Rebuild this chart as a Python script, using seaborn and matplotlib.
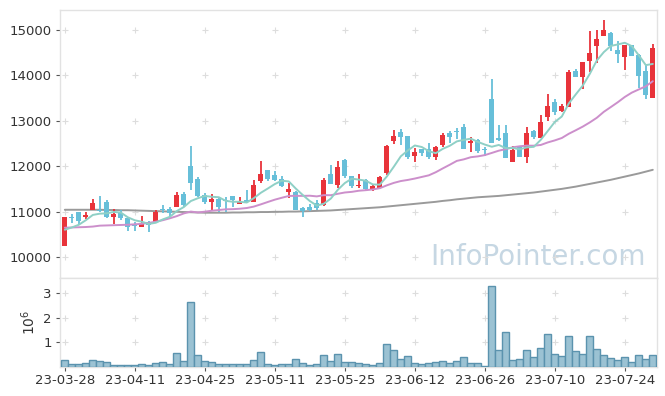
import matplotlib
matplotlib.use("Agg")
import matplotlib.pyplot as plt
import numpy as np
import pandas as pd
import seaborn as sns

# ---------------- data ----------------
tick_labels = ["23-03-28", "23-04-11", "23-04-25", "23-05-11", "23-05-25",
               "23-06-12", "23-06-26", "23-07-10", "23-07-24"]

opens = [10250, 10880, 10990, 10890, 11030, 11030, 11210, 10870, 10970, 10850,
         10700, 10670, 10760, 10770, 11060, 11060, 11090, 11380, 12010, 11720,
         11370, 11220, 11280, 11260, 11340, 11170, 11250, 11220, 11670, 11920,
         11810, 11720, 11430, 11440, 11070, 11110, 11180, 11150, 11830, 11590,
         12140, 11780, 11570, 11700, 11490, 11530, 11840, 12560, 12750, 12670,
         12220, 12380, 12380, 12210, 12470, 12740, 12780, 12860, 12500, 12580,
         12360, 13470, 12620, 12730, 12100, 12420, 12210, 12780, 12630, 13090,
         13410, 13220, 13310, 14100, 13970, 14320, 14650, 14870, 14930, 14560,
         14410, 14670, 14450, 14100, 13510]
closes = [10870, 10850, 10800, 10920, 11190, 11010, 10890, 10950, 10850, 10670,
          10680, 10730, 10710, 10980, 11040, 10960, 11370, 11150, 11640, 11350,
          11210, 11280, 11100, 11240, 11250, 11210, 11200, 11580, 11830, 11720,
          11700, 11570, 11500, 11040, 11010, 11040, 11070, 11700, 11610, 11980,
          11780, 11560, 11590, 11490, 11570, 11760, 12450, 12670, 12640, 12210,
          12310, 12280, 12210, 12420, 12690, 12650, 12760, 12380, 12550, 12340,
          12350, 12520, 12580, 12190, 12360, 12210, 12730, 12640, 12970, 13330,
          13200, 13330, 14080, 13970, 14300, 14490, 14800, 15000, 14650, 14470,
          14670, 14430, 13990, 13570, 14600]
highs = [10870, 10950, 11000, 10990, 11280, 11350, 11260, 11050, 11040, 10870,
         10760, 10900, 10800, 11030, 11140, 11100, 11440, 11440, 12440, 11760,
         11400, 11380, 11290, 11330, 11350, 11320, 11470, 11700, 12110, 11920,
         11890, 11790, 11620, 11450, 11110, 11170, 11250, 11750, 12030, 12110,
         12150, 11790, 11830, 11720, 11580, 11780, 12460, 12800, 12820, 12670,
         12400, 12380, 12500, 12440, 12720, 12770, 12850, 12920, 12640, 12590,
         12420, 13910, 12900, 12900, 12440, 12420, 12870, 12790, 13120, 13590,
         13480, 13360, 14120, 14130, 14300, 14980, 15000, 15220, 14950, 14760,
         14670, 14680, 14460, 14230, 14690]
lows = [10250, 10740, 10730, 10830, 11030, 11000, 10860, 10720, 10810, 10580,
        10580, 10660, 10560, 10760, 10970, 10880, 11090, 11090, 11470, 11330,
        11160, 11035, 11000, 11000, 11100, 11160, 11190, 11210, 11630, 11680,
        11680, 11550, 11290, 11040, 10870, 11020, 11040, 11120, 11600, 11530,
        11750, 11520, 11530, 11470, 11460, 11510, 11800, 12480, 12470, 12150,
        12090, 12220, 12150, 12140, 12420, 12500, 12600, 12370, 12320, 12300,
        12220, 12510, 12550, 12170, 12090, 12200, 12080, 12600, 12620, 13000,
        13120, 13200, 13300, 13960, 13690, 14080, 14270, 14870, 14540, 14270,
        14120, 14420, 13720, 13470, 13500]
volumes_m = [0.28, 0.12, 0.12, 0.16, 0.28, 0.26, 0.20, 0.08, 0.08, 0.08,
             0.08, 0.12, 0.08, 0.16, 0.20, 0.12, 0.57, 0.24, 2.65, 0.49,
             0.24, 0.20, 0.12, 0.12, 0.12, 0.12, 0.12, 0.28, 0.61, 0.12,
             0.08, 0.12, 0.12, 0.33, 0.16, 0.08, 0.12, 0.49, 0.24, 0.53,
             0.20, 0.20, 0.15, 0.11, 0.07, 0.15, 0.92, 0.68, 0.31, 0.43,
             0.15, 0.11, 0.15, 0.19, 0.23, 0.15, 0.23, 0.39, 0.15, 0.15,
             0.03, 3.28, 0.68, 1.41, 0.27, 0.31, 0.68, 0.39, 0.76, 1.33,
             0.52, 0.43, 1.25, 0.64, 0.52, 1.25, 0.72, 0.47, 0.35, 0.27,
             0.39, 0.19, 0.47, 0.31, 0.47]
# moving-average values before enough history is visible
ma5_head = [10600, 10650, 10710, 10810]
ma20_head = [10645, 10650, 10655, 10660, 10670, 10690, 10695, 10700, 10705, 10710,
             10720, 10730, 10750, 10778, 10810, 10852, 10900, 10960, 11000]
# long moving average (grey line)
ma_long = [11040, 11040, 11040, 11040, 11040, 11040, 11035, 11035, 11030, 11030,
           11025, 11020, 11015, 11010, 11005, 11000, 10995, 10990, 10985, 10980,
           10975, 10975, 10975, 10975, 10980, 10980, 10985, 10985, 10990, 10990,
           10995, 10995, 11000, 11000, 11005, 11010, 11015, 11020, 11025, 11035,
           11045, 11055, 11065, 11075, 11085, 11095, 11110, 11125, 11140, 11155,
           11170, 11185, 11200, 11215, 11235, 11250, 11270, 11285, 11300, 11315,
           11325, 11335, 11345, 11360, 11375, 11390, 11405, 11420, 11440, 11460,
           11480, 11500, 11525, 11550, 11580, 11610, 11640, 11670, 11700, 11735,
           11770, 11805, 11840, 11880, 11920]

# ---------------- derived frame ----------------
n = len(closes)
df = pd.DataFrame({"i": np.arange(n), "open": opens, "close": closes,
                   "high": highs, "low": lows, "vol": volumes_m})
ma5 = df["close"].rolling(5).mean().to_numpy()
ma5[:len(ma5_head)] = ma5_head
ma20 = df["close"].rolling(20).mean().to_numpy()
ma20[:len(ma20_head)] = ma20_head
df["ma5"] = ma5
df["ma20"] = ma20
df["ma_long"] = ma_long

UP = "#e8333a"
DOWN = "#67bfd9"
TXT = "#333333"

sns.set_theme(style="white")
plt.rcParams["font.family"] = ["DejaVu Sans"]

W, H = 665, 396
fig = plt.figure(figsize=(W / 100, H / 100), dpi=100)
ax = fig.add_axes([60 / W, 1 - 278 / H, 597 / W, 268 / H])
axv = fig.add_axes([60 / W, 1 - 367 / H, 597 / W, 89 / H], sharex=ax)

# ---------------- candles ----------------
up = df["close"] >= df["open"]
colors = np.where(up, UP, DOWN)
body_lo = np.minimum(df["open"], df["close"])
body_h = np.maximum(np.abs(df["close"] - df["open"]), 18)
ax.vlines(df["i"], df["low"], df["high"], colors=colors, linewidth=1.3, zorder=3)
ax.bar(df["i"], body_h, bottom=body_lo, width=0.7, color=colors, linewidth=0, zorder=4)

# moving averages
sns.lineplot(data=df, x="i", y="ma_long", ax=ax, color="#9a9a9a", linewidth=1.4, zorder=2)
sns.lineplot(data=df, x="i", y="ma20", ax=ax, color="#cc8fcb", linewidth=1.4, zorder=5)
sns.lineplot(data=df, x="i", y="ma5", ax=ax, color="#8fd0c6", linewidth=1.4, zorder=6)

# ---------------- volume ----------------
axv.bar(df["i"], df["vol"], width=1.0, color="#9bc2d3", edgecolor="#5b93ae",
        linewidth=1.0, zorder=3)

# ---------------- axes cosmetics ----------------
xt = np.arange(0, n, 10)
ax.set_xlim(-0.69, 84.6)
ax.set_ylim(9537, 15440)
yt = [10000, 11000, 12000, 13000, 14000, 15000]
ax.set_yticks(yt)
ax.set_yticklabels([str(v) for v in yt])
axv.set_ylim(0, 3.62)
axv.set_yticks([1, 2, 3])
axv.set_yticklabels(["1", "2", "3"])
axv.set_xticks(xt)
axv.set_xticklabels(tick_labels)
ax.tick_params(axis="x", which="both", bottom=False, labelbottom=False)
ax.set_xlabel("")
ax.set_ylabel("")
axv.set_xlabel("")
axv.set_ylabel(r"$10^6$", fontsize=10, color=TXT, labelpad=4)

for a in (ax, axv):
    a.set_facecolor("white")
    a.tick_params(axis="y", left=True, length=3, width=0.8, color="#555555",
                  labelsize=9.5, labelcolor=TXT, pad=3)
    for s in a.spines.values():
        s.set_color("#e2e2e2")
        s.set_linewidth(1.0)
    a.grid(False)
axv.tick_params(axis="x", bottom=True, length=3, width=0.8, color="#555555",
                labelsize=9.5, labelcolor=TXT, pad=2)

# grid crosses at tick intersections
gx, gy = np.meshgrid(xt, yt)
ax.scatter(gx.ravel(), gy.ravel(), marker="+", s=22, color="#dddddd", linewidths=0.8, zorder=1)
gx2, gy2 = np.meshgrid(xt, [1, 2, 3])
axv.scatter(gx2.ravel(), gy2.ravel(), marker="+", s=22, color="#dddddd", linewidths=0.8, zorder=1)

# watermark
ax.text(0.8, 0.08, "InfoPointer.com", transform=ax.transAxes, ha="center", va="center",
        fontsize=20, color="#c6d7e3", zorder=0)

fig.savefig("out.png", dpi=100, facecolor="white")
